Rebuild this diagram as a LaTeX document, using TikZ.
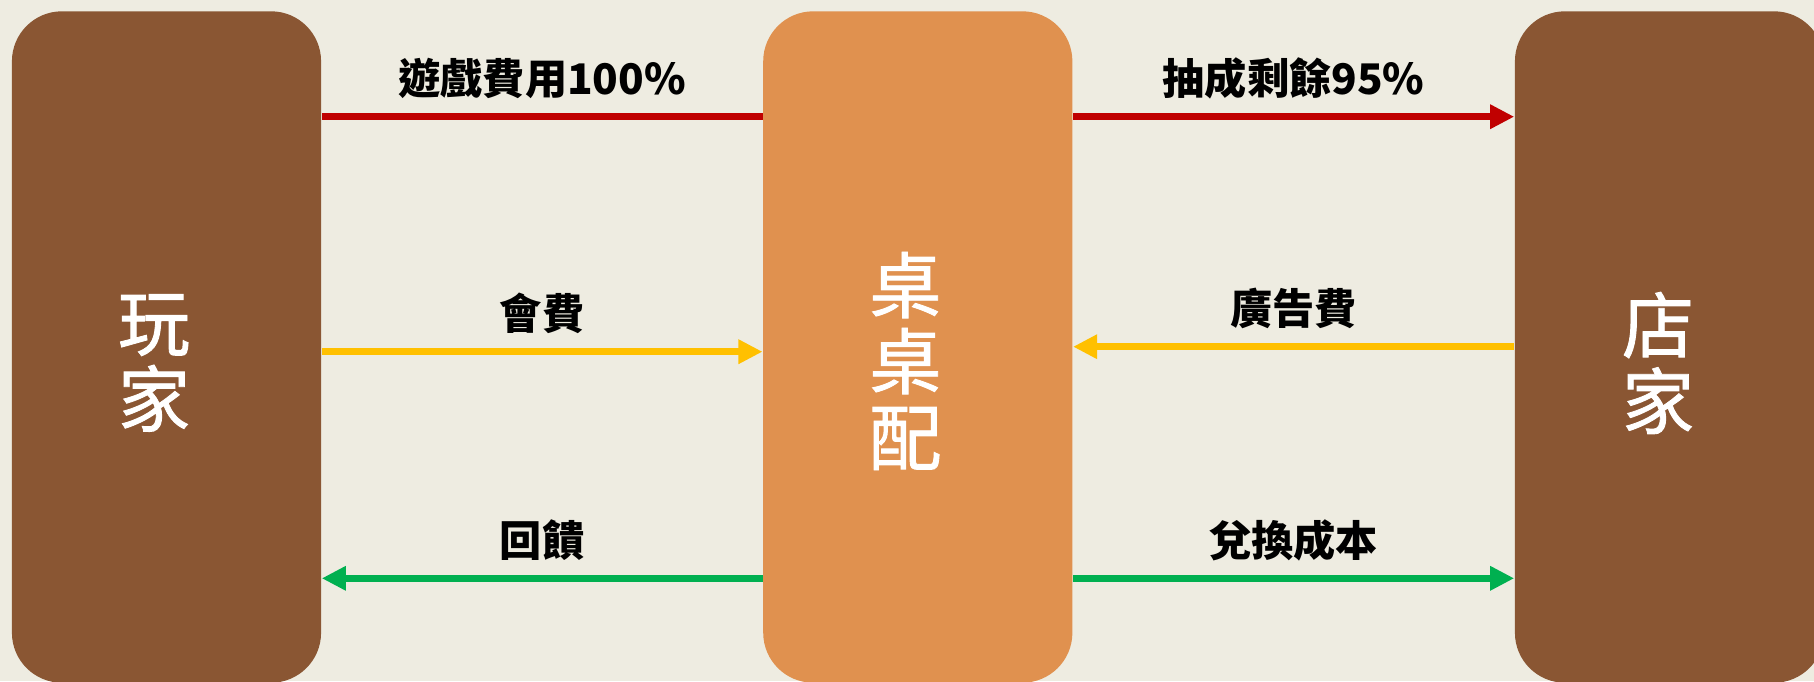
\documentclass[tikz,border=0pt]{standalone}
\usepackage{fontspec}
\setmainfont{Noto Sans CJK TC}
\newfontfamily\bigfont{Noto Sans CJK TC}[FakeBold=1.2]
\usetikzlibrary{arrows.meta}
\definecolor{tanbg}{HTML}{EEECE1}
\definecolor{boxbrown}{HTML}{8A5633}
\definecolor{boxorange}{HTML}{E0914F}
\definecolor{flowred}{HTML}{C00000}
\definecolor{flowgold}{HTML}{FFC000}
\definecolor{flowgreen}{HTML}{00B050}
\begin{document}
\begin{tikzpicture}[x=0.01cm, y=-0.01cm,
    party/.style={rounded corners=0.5cm, minimum width=3.09cm, minimum height=6.71cm, inner sep=0},
    big/.style={text=white, font=\bigfont\fontsize{20.5}{21.6}\selectfont, align=center, inner sep=0},
    lbl/.style={text=black, font=\fontsize{12}{13}\selectfont\bfseries, inner sep=0, above=0.14cm},
    flow/.style={line width=0.07cm, -{Triangle[length=0.24cm, width=0.23cm]}}]
    \useasboundingbox (0,0) rectangle (1814,681);
    \fill[tanbg] (0,0) rectangle (1814,681);
    \clip (0,0) rectangle (1814,681);
    % the three parties
    \node[party, fill=boxbrown] (player) at (166.5,347) {};
    \node[party, fill=boxorange] (platform) at (917.8,347) {};
    \node[party, fill=boxbrown] (shop) at (1669.5,347) {};
    \node[big] (playertxt) at (154,363) {玩\\家};
    \node[big] (platformtxt) at (905.5,361) {桌\\桌\\配};
    \node[big] (shoptxt) at (1658,363) {店\\家};
    % money flows
    \coordinate (yred) at (0,116.7);
    \coordinate (yfee) at (0,351.7);
    \coordinate (yad) at (0,346.7);
    \coordinate (ygreen) at (0,578.3);
    \draw[flowred, line width=0.07cm] (player.east |- yred) -- node[lbl] {遊戲費用100\%} (platform.west |- yred);
    \draw[flow, flowred] (platform.east |- yred) -- node[lbl] {抽成剩餘95\%} (shop.west |- yred);
    \draw[flow, flowgold] (player.east |- yfee) -- node[lbl] {會費} (platform.west |- yfee);
    \draw[flow, flowgold] (shop.west |- yad) -- node[lbl] {廣告費} (platform.east |- yad);
    \draw[flow, flowgreen] (platform.west |- ygreen) -- node[lbl] {回饋} (player.east |- ygreen);
    \draw[flow, flowgreen] (platform.east |- ygreen) -- node[lbl] {兌換成本} (shop.west |- ygreen);
\end{tikzpicture}
\end{document}
